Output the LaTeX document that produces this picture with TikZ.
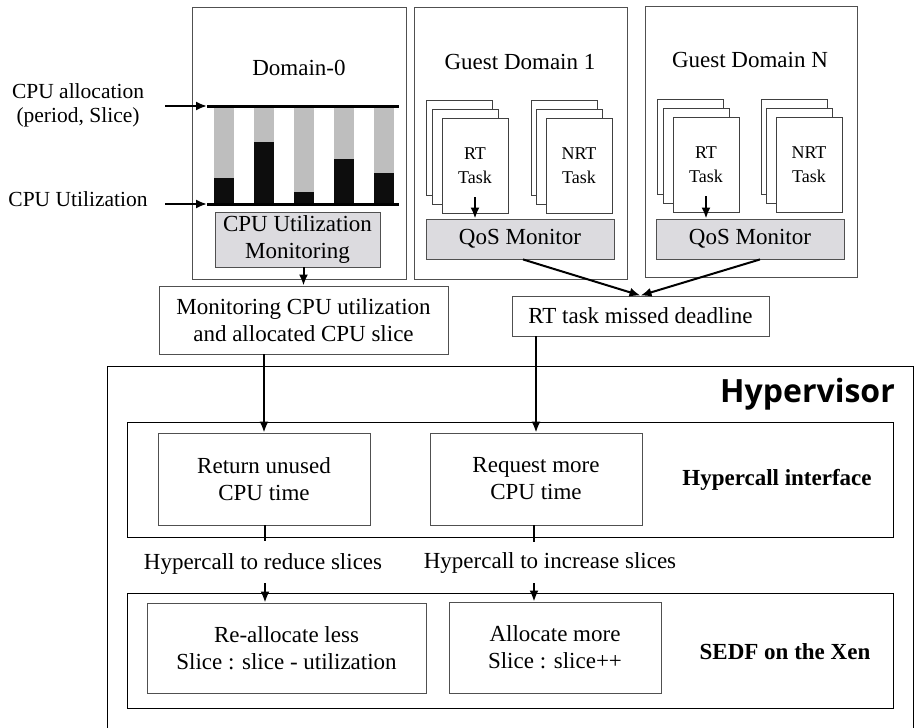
\documentclass[tikz,border=0pt]{standalone}
\usepackage{fontspec}
\setmainfont{Liberation Serif}
\newfontfamily\hypfont{Open Sans}
\usetikzlibrary{arrows.meta,calc}
\definecolor{boxgray}{HTML}{DCDBDF}
\definecolor{bargray}{HTML}{BEBEBE}
\definecolor{edge}{HTML}{505050}
\tikzset{
  box/.style={draw=edge,line width=0.9pt,fill=white,inner sep=0pt,align=center,
    font=\fontsize{23}{27}\selectfont},
  dombox/.style={draw=edge,line width=0.9pt,inner sep=0pt},
  graybox/.style={box,fill=boxgray},
  page/.style={draw=black!75,line width=0.9pt,fill=white,minimum width=66pt,minimum height=95pt,inner sep=0pt},
  frame/.style={draw=black,line width=1pt,inner sep=0pt},
  arr/.style={line width=2pt,-{Latex[length=11pt,width=9pt]}},
  tick/.style={line width=2pt},
  lbl/.style={inner sep=0pt,align=center,font=\fontsize{23}{27}\selectfont},
  blbl/.style={inner sep=0pt,align=center,font=\fontsize{23}{27}\selectfont\bfseries},
  sidelbl/.style={inner sep=0pt,align=center,font=\fontsize{21.5}{24}\selectfont},
  tasklbl/.style={inner sep=0pt,align=center,font=\fontsize{18}{24}\selectfont}
}
\begin{document}
\begin{tikzpicture}[x=1pt,y=-1pt]
\useasboundingbox (0,0) rectangle (916,728);
\clip (0,0) rectangle (916,728);
% domain boxes
\node[dombox,minimum width=214pt,minimum height=272pt] (dom0) at (299,143) {};
\node[dombox,minimum width=213pt,minimum height=272pt] (g1) at (520.5,143) {};
\node[dombox,minimum width=212pt,minimum height=271pt] (gN) at (751,141.5) {};
\node[lbl] (t0) at (299,68) {Domain-0};
\node[lbl] (t1) at (520,62) {Guest Domain 1};
\node[lbl] (tN) at (750,60) {Guest Domain N};
% chart
\coordinate (tl) at (207,106);
\coordinate (tr) at (399,106);
\coordinate (bl) at (207,204);
\coordinate (br) at (399,204);
\foreach \x/\h in {214/178,254/142,294/192,334/159,374/173}{
  \fill[bargray] (\x,106) rectangle (\x+20,\h);
  \fill[black!95] (\x,\h) rectangle (\x+20,204);
}
\draw[line width=3pt] (tl) -- (tr);
\draw[line width=3pt] (bl) -- (br);
% side labels
\node[sidelbl] (alloc) at (78,105) {CPU allocation\\(period, Slice)};
\node[sidelbl] (util) at (78,199) {CPU Utilization};
\coordinate (a1) at (165,106);
\coordinate (a2) at (165,204);
\draw[arr] (a1) -- (tl);
\draw[arr] (a2) -- (bl);
% monitoring
\node[graybox,minimum width=165pt,minimum height=55pt] (mon) at (297.5,239.5) {CPU Utilization\\Monitoring};
\node[box,minimum width=289pt,minimum height=68pt] (mcu) at (303.5,320) {Monitoring CPU utilization\\and allocated CPU slice};
\draw[arr] (mon.south -| mcu.north) -- (mcu.north);
% guest 1 tasks
\node[page] (rt1a) at (459,147.5) {};
\node[page] (rt1b) at (465,156.5) {};
\node[page] (rt1c) at (475,165.5) {};
\node[page] (nrt1a) at (564,147.5) {};
\node[page] (nrt1b) at (569,156.5) {};
\node[page] (nrt1c) at (579,165.5) {};
\node[tasklbl] (rt1t) at (475,166) {RT\\Task};
\node[tasklbl] (nrt1t) at (579,166) {NRT\\Task};
\node[graybox,minimum width=188pt,minimum height=40pt] (qos1) at (520,239) {QoS Monitor};
\draw[arr] ([yshift=16pt]rt1c.south) -- (rt1c.south |- qos1.north);
% guest N tasks
\node[page] (rtNa) at (690,146.5) {};
\node[page] (rtNb) at (696,155.5) {};
\node[page] (rtNc) at (706,164.5) {};
\node[page] (nrtNa) at (794,146.5) {};
\node[page] (nrtNb) at (799,155.5) {};
\node[page] (nrtNc) at (809,164.5) {};
\node[tasklbl] (rtNt) at (706,165) {RT\\Task};
\node[tasklbl] (nrtNt) at (809,165) {NRT\\Task};
\node[graybox,minimum width=188pt,minimum height=40pt] (qosN) at (750,239) {QoS Monitor};
\draw[arr] ([yshift=16pt]rtNc.south) -- (rtNc.south |- qosN.north);
% RT missed deadline
\node[box,minimum width=257pt,minimum height=40pt] (rtm) at (640.5,316) {RT task missed deadline};
\draw[arr] ([xshift=3pt]qos1.south) -- (rtm.north);
\draw[arr] ([xshift=10pt]qosN.south) -- (rtm.north);
% hypervisor
\node[frame,minimum width=806pt,minimum height=400pt,anchor=north west] (hyp) at (107,366) {};
\node[anchor=east,inner sep=0pt,font=\hypfont\bfseries\fontsize{32}{38}\selectfont] (hyptxt) at (895,394) {Hypervisor};
\node[frame,minimum width=766pt,minimum height=115pt] (hci) at (510,479.5) {};
\node[box,minimum width=212pt,minimum height=92pt] (ret) at (264,479) {Return unused\\CPU time};
\node[box,minimum width=212pt,minimum height=92pt] (req) at (536,479) {Request more\\CPU time};
\node[blbl] (hcit) at (777,480) {Hypercall interface};
\node[frame,minimum width=766pt,minimum height=115pt] (sedf) at (510,650.5) {};
\node[box,minimum width=279pt,minimum height=90pt] (rea) at (286.5,648) {Re-allocate less\\Slice : slice - utilization};
\node[box,minimum width=212pt,minimum height=91pt] (alm) at (555,647.5) {Allocate more\\Slice : slice++};
\node[blbl] (sedft) at (785,652) {SEDF on the Xen};
% arrows into hypervisor
\draw[arr] (ret.north |- mcu.south) -- (ret.north);
\draw[arr] (req.north |- rtm.south) -- (req.north);
% hypercall labels
\node[lbl] (hr) at (263,564) {Hypercall to reduce slices};
\node[lbl] (hi) at (550,563) {Hypercall to increase slices};
\coordinate (r0) at (265,525);
\coordinate (r1) at (265,541);
\coordinate (r2) at (265,583);
\coordinate (i0) at (534,525);
\coordinate (i1) at (534,542);
\coordinate (i2) at (534,583);
\draw[tick] (r0) -- (r1);
\draw[tick] (i0) -- (i1);
\draw[arr] (r2) -- (r2 |- rea.north);
\draw[arr] (i2) -- (i2 |- alm.north);
\end{tikzpicture}
\end{document}
